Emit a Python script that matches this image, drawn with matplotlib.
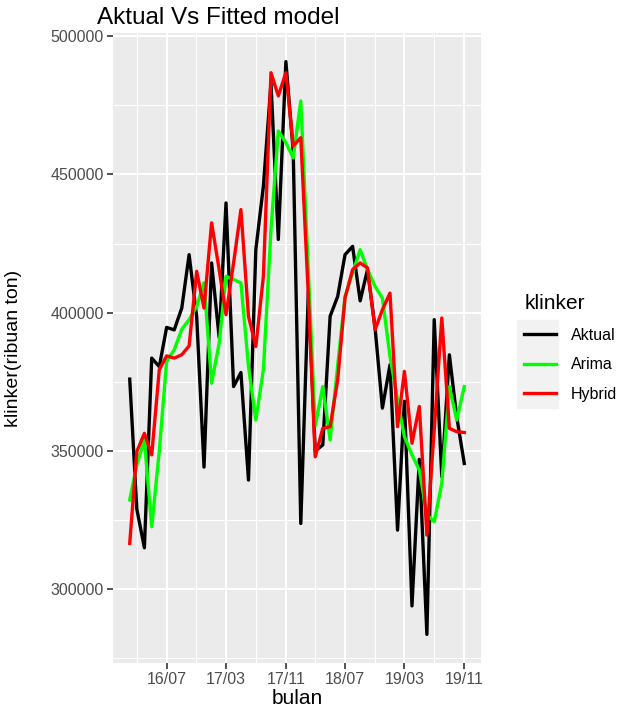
import numpy as np
import pandas as pd
import matplotlib
matplotlib.use('Agg')
import matplotlib.pyplot as plt
import matplotlib.dates as mdates
from matplotlib.ticker import FuncFormatter
from matplotlib.patches import Rectangle

plt.rcParams['font.family'] = ['Liberation Sans', 'DejaVu Sans']

### data (monthly, Feb 2016 - Nov 2019)
bulan = pd.date_range('2016-02-01', periods=46, freq='MS')
aktual = [376000, 329000, 315000, 383600, 380500, 394700, 393800, 401700, 421000, 398500,
          344200, 418000, 391000, 439700, 373300, 378400, 339500, 422800, 445800, 483000,
          426500, 490800, 458500, 323800, 408000, 350000, 352200, 398700, 405900, 421000,
          424000, 404300, 415600, 394500, 365500, 381200, 321400, 368000, 294000, 347000,
          283700, 397500, 340700, 384800, 362400, 345500]
arima = [332300, 345000, 354000, 322600, 350000, 382400, 386600, 394000, 397500, 402300,
         410800, 374500, 389000, 413200, 412000, 410800, 380600, 361200, 379400, 430000,
         465700, 461500, 456000, 476600, 415000, 359000, 373300, 354000, 381000, 405900,
         414400, 422800, 415600, 409500, 405300, 384200, 368500, 355200, 348600, 343100,
         327000, 324400, 338300, 373300, 361200, 373300]
hybrid = [316600, 349800, 356400, 348600, 379400, 384400, 383600, 384800, 388000, 415000,
          401700, 432500, 415600, 399300, 418000, 437300, 398700, 387800, 413200, 486800,
          478400, 486800, 460300, 463300, 406000, 347900, 358200, 358800, 375700, 405300,
          415600, 418000, 416200, 393850, 401100, 407100, 358800, 378800, 352800, 366100,
          319600, 357600, 398100, 358200, 357000, 356700]
x_ticks = pd.to_datetime(['2016-07-01', '2017-03-01', '2017-11-01',
                          '2018-07-01', '2019-03-01', '2019-11-01'])
y_ticks = [300000, 350000, 400000, 450000, 500000]
y_minor = [275000, 325000, 375000, 425000, 475000]

### plot
fig = plt.figure(figsize=(6.3, 7.06), dpi=100)
ax = fig.add_axes([113/630, 1-663/706, 368/630, 630/706])
ax.set_facecolor('#EBEBEB')
for s in ax.spines.values():
    s.set_visible(False)

ax.plot(bulan, aktual, color='black', lw=2.4, label='Aktual')
ax.plot(bulan, arima, color='#00FF00', lw=2.4, label='Arima')
ax.plot(bulan, hybrid, color='#FF0000', lw=2.4, label='Hybrid')

xt = mdates.date2num(x_ticks)
step = xt[1] - xt[0]
xminor = np.concatenate([[xt[0] - step/2], (xt[:-1] + xt[1:])/2])
ax.set_xticks(xt)
ax.set_xticks(xminor, minor=True)
ax.xaxis.set_major_formatter(mdates.DateFormatter('%y/%m'))
ax.set_yticks(y_ticks)
ax.set_yticks(y_minor, minor=True)
ax.yaxis.set_major_formatter(FuncFormatter(lambda v, p: f'{v:.0f}'))

# ggplot-like expansion (set after ticks so they don't widen the view)
x0, x1 = mdates.date2num(bulan[0]), mdates.date2num(bulan[-1])
ax.set_xlim(x0 - 0.05*(x1-x0), x1 + 0.05*(x1-x0))
allv = np.concatenate([aktual, arima, hybrid])
rng = allv.max() - allv.min()
ax.set_ylim(allv.min() - 0.05*rng, allv.max() + 0.05*rng)

ax.set_axisbelow(True)
ax.grid(which='major', color='white', lw=1.5)
ax.grid(which='minor', color='white', lw=0.75)
ax.tick_params(which='minor', length=0)
ax.tick_params(which='major', length=4, width=1.2, color='#333333',
               labelcolor='#4D4D4D', labelsize=11.5, pad=2.5)

fig.text(97/630, 1-24/706, 'Aktual Vs Fitted model', fontsize=17.5, va='baseline')
fig.text(297/630, 1-698/706, 'bulan', fontsize=15, ha='center', va='center')
fig.text(14/630, 1-348/706, 'klinker(ribuan ton)', fontsize=14, rotation=90,
         ha='center', va='center')

fig.add_artist(Rectangle((517/630, 1-408/706), 41/630, 88/706,
                         transform=fig.transFigure, color='#F2F2F2', zorder=0))
h, l = ax.get_legend_handles_labels()
fig.legend(h, l, title='klinker', loc='upper left', bbox_to_anchor=(510/630, 1-280/706),
           frameon=False, handlelength=2.0, fontsize=11.5, title_fontsize=15,
           alignment='left', labelspacing=0.9, handletextpad=0.9)

plt.savefig('out.png', dpi=100)
